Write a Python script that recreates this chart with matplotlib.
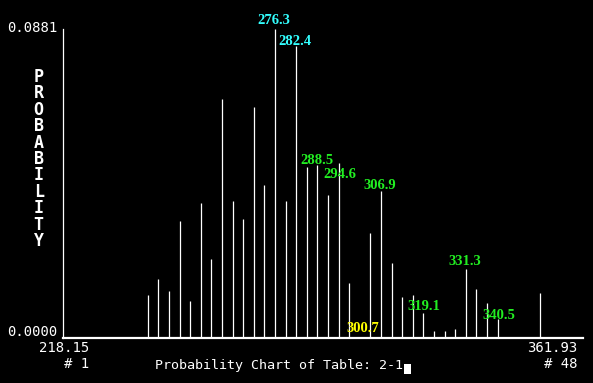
import matplotlib
matplotlib.use("Agg")
import matplotlib.pyplot as plt
from matplotlib.patches import Rectangle

# ---- data ----
bins = list(range(1, 49))
probs = [0, 0, 0, 0, 0, 0, 0, 0,
         0.01201, 0.01659, 0.01316, 0.03318, 0.01030, 0.03833, 0.02231, 0.06808,
         0.03890, 0.03375, 0.06579, 0.04348, 0.08810, 0.03890, 0.08324, 0.04863,
         0.04920, 0.04062, 0.04977, 0.01545, 0.0, 0.02975, 0.04176, 0.02117,
         0.01144, 0.01201, 0.00686, 0.00172, 0.00172, 0.00229, 0.01945, 0.01373,
         0.00973, 0.00515, 0, 0, 0, 0.01259, 0, 0]
x_min_label = "218.15"
x_max_label = "361.93"
y_max_label = "0.0881"
y_min_label = "0.0000"
first_bin_label = "# 1"
last_bin_label = "# 48"
title = "Probability Chart of Table: 2-1"
ylabel = "PROBABILITY"
value_labels = ["276.3", "282.4", "288.5", "294.6", "306.9", "300.7", "319.1", "331.3", "340.5"]
value_colors = ["#33ffff", "#33ffff", "#22ee22", "#22ee22", "#22ee22", "#ffff00", "#22ee22", "#22ee22", "#22ee22"]
value_x = [20.9, 22.89, 24.96, 27.13, 30.9, 29.3, 35.03, 38.92, 42.13]
value_y = [0.0905, 0.08453, 0.05049, 0.04662, 0.04333, 0.00243, 0.00887, 0.02174, 0.00638]

W, H = 593, 383
fig = plt.figure(figsize=(W / 100, H / 100), dpi=100, facecolor="black")

def fx(x):
    return x / W

def fy(y):
    return 1 - y / H

ax = fig.add_axes([fx(63), fy(337.5), fx(583) - fx(63), fy(29) - fy(337.5)])
ax.set_facecolor("black")
ax.set_xlim(1, 1 + 520 / 10.6)
ax.set_ylim(0, 0.0881)
ax.vlines(bins, 0, probs, color="white", lw=0.9)
for s in ["top", "right"]:
    ax.spines[s].set_visible(False)
ax.spines["left"].set_color("white")
ax.spines["left"].set_linewidth(0.9)
ax.spines["bottom"].set_color("white")
ax.spines["bottom"].set_linewidth(1.6)
ax.set_xticks([])
ax.set_yticks([])

mono = "DejaVu Sans Mono"
for t, x, y, c in zip(value_labels, value_x, value_y, value_colors):
    ax.text(x, y, t, color=c, ha="center", va="center", fontsize=10.5,
            family="Liberation Serif", fontweight="bold", clip_on=False)

fs = 10
fig.text(fx(57), fy(28), y_max_label, color="white", ha="right", va="center", fontsize=fs, family=mono)
fig.text(fx(57), fy(331.5), y_min_label, color="white", ha="right", va="center", fontsize=fs, family=mono)
fig.text(fx(89.5), fy(348.5), x_min_label, color="white", ha="right", va="center", fontsize=fs, family=mono)
fig.text(fx(89.5), fy(364.5), first_bin_label, color="white", ha="right", va="center", fontsize=fs, family=mono)
fig.text(fx(577.5), fy(348.5), x_max_label, color="white", ha="right", va="center", fontsize=fs, family=mono)
fig.text(fx(577.5), fy(364.5), last_bin_label, color="white", ha="right", va="center", fontsize=fs, family=mono)
fig.text(fx(155), fy(366), title, color="white", ha="left", va="center", fontsize=9.6, family=mono)
fig.patches.append(Rectangle((fx(404), fy(374)), fx(411) - fx(404), fy(364) - fy(374),
                             transform=fig.transFigure, facecolor="white", edgecolor="none"))

fig.text(fx(38.7), fy(68), "\n".join(ylabel), color="white", ha="center", va="top",
         fontsize=12, family=mono, fontweight="bold", linespacing=0.885,
         multialignment="center")

fig.savefig("out.png", dpi=100, facecolor="black")
